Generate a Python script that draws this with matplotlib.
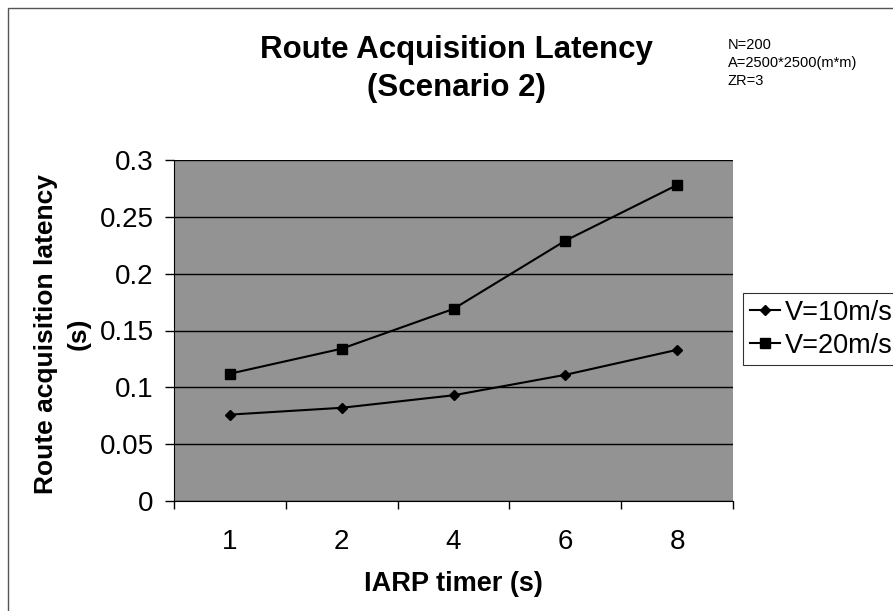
import matplotlib
matplotlib.use("Agg")
import matplotlib.pyplot as plt
from matplotlib.patches import Rectangle

plt.rcParams['font.family'] = ['Liberation Sans', 'DejaVu Sans']

# data
timers = ['1', '2', '4', '6', '8']
v10 = [0.076, 0.082, 0.093, 0.111, 0.133]
v20 = [0.112, 0.134, 0.169, 0.229, 0.278]
y_ticks = [0, 0.05, 0.1, 0.15, 0.2, 0.25, 0.3]
y_tick_labels = ['0', '0.05', '0.1', '0.15', '0.2', '0.25', '0.3']

W, H = 893, 611
fig = plt.figure(figsize=(W / 100, H / 100), dpi=100)
# plot area in pixels: x 174..733, y 160..501
ax = fig.add_axes([174 / W, 1 - 501 / H, (733 - 174) / W, (501 - 160) / H])

pos = list(range(1, len(timers) + 1))
ax.set_facecolor('#939393')
ax.plot(pos, v10, color='black', lw=1.5, marker='D', ms=5.5, label='V=10m/s')
ax.plot(pos, v20, color='black', lw=1.5, marker='s', ms=7.5, label='V=20m/s')

ax.set_xlim(0.5, len(timers) + 0.5)
ax.set_ylim(0, 0.3)
ax.set_yticks(y_ticks)
ax.set_yticklabels(y_tick_labels)
# category boundaries get the tick marks, category centres get the labels
ax.set_xticks([p - 0.5 for p in pos] + [len(timers) + 0.5])
ax.set_xticklabels([])
ax.set_xticks(pos, minor=True)
ax.set_xticklabels(timers, minor=True)
ax.tick_params(axis='x', which='minor', length=0, pad=20, labelsize=20)
ax.tick_params(axis='x', which='major', length=6, direction='out', width=1)
ax.tick_params(axis='y', length=6.5, direction='out', width=1, labelsize=20, pad=8)

ax.yaxis.grid(True, color='black', lw=1)
ax.set_axisbelow(False)
for s in ['top', 'right']:
    ax.spines[s].set_visible(False)

ax.set_xlabel('IARP timer (s)', fontsize=19.5, fontweight='bold', va='center')
ax.xaxis.set_label_coords(0.5, (501 - 584) / (501 - 160))
ax.set_ylabel('Route acquisition latency\n(s)', fontsize=19, fontweight='bold',
              linespacing=1.45, va='center')
ax.yaxis.set_label_coords((62 - 174) / (733 - 174), 0.49)

fig.text(456 / W, 1 - 69 / H, 'Route Acquisition Latency\n(Scenario 2)',
         ha='center', va='center', fontsize=22.5, fontweight='bold', linespacing=1.38)
fig.text(728 / W, 1 - 63 / H, 'N=200\nA=2500*2500(m*m)\nZR=3',
         ha='left', va='center', fontsize=10.5, linespacing=1.4)

leg = fig.legend(loc='upper left', bbox_to_anchor=(743 / W, 1 - 293 / H),
                 fontsize=19.5, frameon=True, fancybox=False, edgecolor='black',
                 handlelength=1.1, handletextpad=0.2, borderpad=0.25,
                 labelspacing=0.25, borderaxespad=0)
leg.get_frame().set_linewidth(0.8)

# chart area border (runs off the right and bottom of the scan)
fig.add_artist(Rectangle((8 / W, -0.1), 1.2, 1.1 - 8 / H, transform=fig.transFigure,
                         fill=False, edgecolor='#555555', lw=1))

fig.savefig('out.png', dpi=100)
